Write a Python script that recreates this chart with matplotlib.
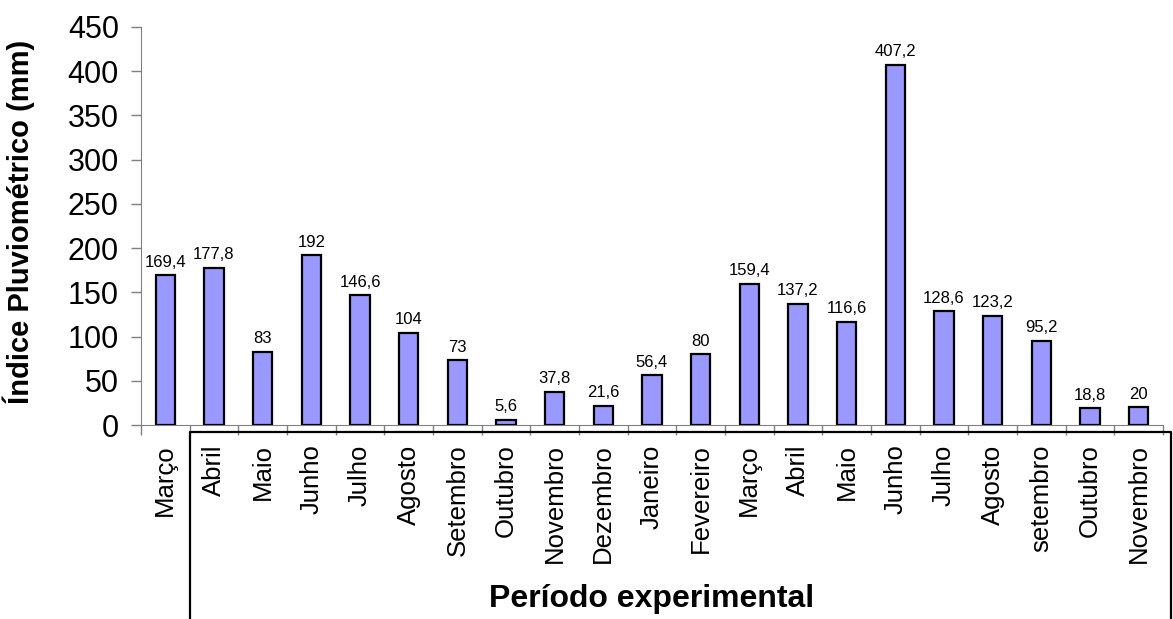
import matplotlib
matplotlib.use("Agg")
import matplotlib.pyplot as plt
import matplotlib.transforms as mtransforms
from matplotlib.lines import Line2D
import numpy as np

plt.rcParams['font.family'] = ['Liberation Sans', 'DejaVu Sans']

# meses do periodo experimental
meses = ["Março", "Abril", "Maio", "Junho", "Julho", "Agosto", "Setembro",
         "Outubro", "Novembro", "Dezembro", "Janeiro", "Fevereiro", "Março",
         "Abril", "Maio", "Junho", "Julho", "Agosto", "setembro", "Outubro",
         "Novembro"]
chuva = [169.4, 177.8, 83, 192, 146.6, 104, 73, 5.6, 37.8, 21.6, 56.4, 80,
         159.4, 137.2, 116.6, 407.2, 128.6, 123.2, 95.2, 18.8, 20]
yticks = [0, 50, 100, 150, 200, 250, 300, 350, 400, 450]

fig = plt.figure(figsize=(11.73, 6.19), dpi=100)
ax = fig.add_axes([0.1202, 0.3134, 0.8713, 0.643])

x = np.arange(len(meses))
bars = ax.bar(x, chuva, width=0.4, color="#9999FF", edgecolor="black", linewidth=1.6)

rotulos = [f"{v:g}".replace(".", ",") for v in chuva]
ax.bar_label(bars, labels=rotulos, padding=4, fontsize=12)

ax.set_xlim(-0.5, len(meses) - 0.5)
ax.set_ylim(0, 450)
ax.set_yticks(yticks)
ax.tick_params(axis="y", labelsize=22, length=7, width=1, color="#808080", pad=9)

ax.set_xticks(x)
ax.set_xticklabels(meses, rotation=90, fontsize=18.5)
ax.set_xticks(np.arange(len(meses) + 1) - 0.5, minor=True)
ax.tick_params(axis="x", which="major", length=0, pad=14)
ax.tick_params(axis="x", which="minor", length=7, width=1, color="#808080")

for s in ["top", "right"]:
    ax.spines[s].set_visible(False)
ax.spines["left"].set_color("#808080")
ax.spines["bottom"].set_color("#808080")

ax.set_ylabel("Índice Pluviométrico (mm)", fontsize=21, fontweight="bold")
ax.yaxis.set_label_coords(-0.104, 0.51)
ax.set_xlabel("Período experimental", fontsize=23, fontweight="bold")
ax.xaxis.set_label_coords(0.5, -0.437)
ax.xaxis.label.set_va("center")

# caixa em volta dos rotulos do eixo x
trans = mtransforms.blended_transform_factory(ax.transData, ax.transAxes)
x0, x1 = 0.5, len(meses) - 0.5 + 0.16
ytop = -7 / 398
caixa = Line2D([x0, x0, x1, x1], [-1.0, ytop, ytop, -1.0], transform=trans,
               color="black", linewidth=1.6, clip_on=False)
ax.add_line(caixa)

fig.savefig("out.png", dpi=100)
